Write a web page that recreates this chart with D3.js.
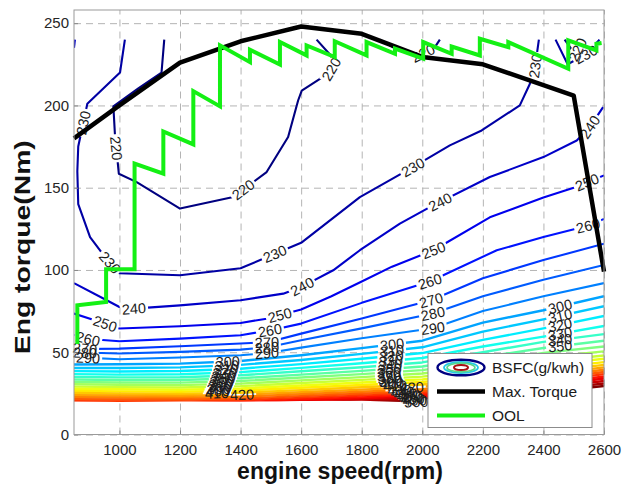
<!DOCTYPE html>
<html>
<head>
<meta charset="utf-8">
<script src="https://cdn.jsdelivr.net/npm/d3@7"></script>
<style>
body { margin: 0; background: #fff; }
svg { display: block; font-family: "Liberation Sans", Arial, sans-serif; }
</style>
</head>
<body>
<svg id="bsfc-map" width="631" height="484"></svg>
<script>
// ---- data ----
var xTicks = [1000, 1200, 1400, 1600, 1800, 2000, 2200, 2400, 2600];
var yTicks = [0, 50, 100, 150, 200, 250];

// max torque curve (rpm, Nm)
var maxTorque = [[850,180],[1000,200],[1200,226],[1400,239],[1600,248],[1800,243.5],[2000,229.5],[2200,225],[2500,206],[2600,99]];

// optimal operating line
var ool = [[861,55],[861,78.5],[956,80.5],[956,100.5],[1050,100.5],[1050,164.6],[1145,158.5],[1145,184.2],
  [1244,176.3],[1244,208.7],[1332,199.4],[1332,236.5],[1431,226.3],[1431,233.8],[1530,224.9],[1530,238.5],
  [1618,230.4],[1618,236.5],[1711,229.4],[1711,239],[1816,230.4],[1816,238.5],[1910,231.4],[1910,234.5],
  [2003,228.4],[2003,238.5],[2097,231.4],[2097,235.8],[2190,230.4],[2190,240.5],[2284,235.4],[2284,238.5],
  [2482,222.3],[2482,239.5],[2575,233.4],[2575,237.5],[2592,238]];

// low bsfc contours (rpm, Nm)
var bsfc220a = [[1148,240],[1139,220],[1060,210],[980,199.4],[985,182.8],[998,158.5],[1057,153.4],[1200,137.3],
  [1376,144.3],[1486,159.5],[1557,180.8],[1590,203],[1602,209],[1662,216.2],[1690,219],[1712,226],
  [1695,231],[1651,240]];
var bsfc220b = [[1860,240],[1903,235.4],[1950,232],[2002,231.6],[2040,235],[2058,240]];
var bsfc220c = [[2470,240],[2505,231],[2528,240]];
var bsfc230a = [[1018,240],[1002,220],[894,201],[864,175],[861,160],[864,140],[903,120],[952,108],[1000,98],
  [1200,96.8],[1400,101],[1490,108],[1600,116.5],[1794,144.3],[1969,162.5],[2091,175.7],[2196,184.8],
  [2322,200],[2355,213],[2372,223],[2385,240]];
var bsfc230b = [[2440,240],[2480,225],[2540,231],[2585,240]];
var bsfc240a = [[850,92],[958,81.6],[1000,77.5],[1046,76.5],[1200,78.5],[1400,81.6],[1541,85.6],[1600,89.6],
  [1706,99.8],[1794,112],[1926,128.2],[2025,138.2],[2223,156.5],[2400,168.6],[2510,178.7],[2553,186.8],[2597,199]];
var bsfc240b = [[850,235],[853,240]];
var bsfc250 = [[850,73.5],[936,68.4],[1000,64.4],[1200,65.8],[1400,67.8],[1486,70.4],[1600,76],[1700,84],
  [1800,93],[1900,102],[2037,112],[2223,132],[2400,144],[2500,150],[2600,157.5]];
var bsfc260 = [[850,60.3],[900,58],[1000,56.7],[1200,58.3],[1400,60.3],[1500,63.4],[1600,67.4],[1800,80],
  [2025,93],[2246,112],[2400,120],[2550,127],[2600,131]];
var bsfc270 = [[850,53],[900,52],[1000,52.2],[1200,53.6],[1400,55.3],[1490,56.1],[1600,61.3],[1800,70.5],
  [2029,81.6],[2200,95],[2400,106],[2600,116]];
var bsfc280 = [[850,50],[1000,49.2],[1200,50.2],[1400,51.6],[1490,53],[1600,57.3],[1800,64.5],[2035,73.5],
  [2200,84],[2400,94],[2600,103]];
var bsfc290 = [[850,47],[1000,45.7],[1200,46.8],[1400,48.2],[1490,49.5],[1600,52.8],[1800,58.5],[2035,64.6],
  [2200,75],[2400,84],[2600,92]];

// dense high bsfc band: torque of each level at these speeds
var bandRpm = [850, 1000, 1200, 1400, 1600, 1800, 2000, 2200, 2400, 2600];
var bandLevels = [300,310,320,330,340,350,360,370,380,390,400,410,420,430,440,450,460,470,480,490,500];
var bandTorque = [
  [42.5,42.7,43.1,44.7,48.2,52.5,57.0,68.0,75.5,84.0],
  [40.4,40.4,40.8,42.3,45.3,49.0,53.0,62.5,70.0,78.0],
  [38.5,38.3,38.6,40.0,42.8,46.0,49.5,57.5,64.5,72.0],
  [36.7,36.4,36.6,37.9,40.5,43.3,46.5,53.5,59.5,66.0],
  [35.0,34.7,34.8,36.0,38.4,40.9,43.8,50.0,56.3,61.0],
  [33.4,33.1,33.1,34.2,36.4,38.7,41.3,47.0,52.6,57.0],
  [31.9,31.6,31.5,32.5,34.6,36.7,39.1,44.2,49.6,53.5],
  [30.5,30.2,30.0,30.9,32.9,34.9,37.1,41.8,46.8,50.5],
  [29.1,28.8,28.6,29.4,31.3,33.2,35.2,39.6,44.3,48.0],
  [27.8,27.5,27.2,28.0,29.8,31.6,33.5,37.6,42.0,46.0],
  [26.5,26.2,25.9,26.7,28.4,30.1,31.9,35.7,39.9,44.0],
  [25.2,24.9,24.6,25.4,27.0,28.7,30.4,34.0,38.0,42.3],
  [23.9,23.7,23.4,24.2,25.7,27.3,29.0,32.4,36.3,40.8],
  [22.7,22.5,22.2,23.0,24.5,26.0,27.6,30.9,34.7,39.4],
  [21.5,21.3,21.1,21.8,23.3,24.8,26.3,29.5,33.2,38.0],
  [20.3,20.1,20.0,20.7,22.2,23.6,25.1,28.1,31.8,36.7],
  [19.1,19.0,18.9,19.6,21.1,22.5,24.0,26.8,30.5,35.3],
  [18.0,17.9,17.8,18.6,20.1,21.5,22.9,25.6,29.2,34.0],
  [17.0,16.9,16.8,17.6,19.1,20.5,21.9,24.5,28.0,32.5],
  [16.0,15.9,15.8,16.7,18.2,19.6,20.9,23.4,26.8,31.0],
  [15.0,14.9,14.8,15.8,17.3,18.7,20.0,22.4,25.6,29.5]
];
// lowest measured torque of the map at bandRpm
var bottomEdge = [20, 19.8, 20, 20, 20.3, 20.5, 19.5, 22, 24.5, 27];

// contour labels: level, rpm, torque (band labels sit on their line at that rpm)
var blueLabels = [
  [230,893,189],[230,959,103],[230,1515,109],[230,1969,162.5],[230,2372,224],[230,2545,230],
  [220,991,174],[220,1420,146],[220,1700,222],[220,2002,232],[220,2512,234],
  [240,1048,76.5],[240,1603,90],[240,2060,141],[240,2553,187],
  [250,952,67],[250,1530,72],[250,2037,112],[250,2547,152],
  [260,896,58],[260,1497,63.4],[260,2025,93],[260,2547,127],
  [270,886,52],[270,1487,56],[270,2029,81.6],
  [280,886,49],[280,1487,53],[280,2035,73.5],
  [290,896,45],[290,1487,49.5],[290,2035,64.6]
];
var bandLabels = [
  [300,1358],[310,1355],[320,1352],[330,1348],[340,1345],[350,1342],[360,1338],[370,1335],[380,1332],
  [390,1328],[400,1325],[410,1322],[420,1405],
  [300,1900],[310,1900],[320,1898],[330,1896],[340,1894],[350,1892],[360,1890],[370,1890],[380,1892],
  [390,1895],[400,1900],[410,1910],[420,1965],[430,1925],[440,1935],[450,1945],[460,1955],[470,1962],
  [480,1968],[490,1975],[500,1980],
  [300,2455],[310,2455],[320,2455],[330,2455],[340,2455],[350,2455]
];

var legendItems = ["BSFC(g/kwh)", "Max. Torque", "OOL"];

// ---- layout ----
var svg = d3.select("#bsfc-map");
var plotL = 74, plotR = 604, plotT = 10, plotB = 434.5;

var x = d3.scaleLinear().domain([850, 2600]).range([plotL, plotR]);
var y = d3.scaleLinear().domain([0, 258]).range([plotB, plotT]);

// jet colormap like matlab
function jet(v) {
  var t = (v - 220) / (500 - 220);
  function c(o) { return Math.max(0, Math.min(1, 1.5 - Math.abs(4 * t - o))); }
  return d3.rgb(255 * c(3), 255 * c(2), 255 * c(1)) + "";
}

var line = d3.line().x(function (d) { return x(d[0]); }).y(function (d) { return y(d[1]); });

// all contour polylines by level
var contourLines = [
  [220, bsfc220a], [220, bsfc220b], [220, bsfc220c],
  [230, bsfc230a], [230, bsfc230b],
  [240, bsfc240a], [240, bsfc240b],
  [250, bsfc250], [260, bsfc260], [270, bsfc270], [280, bsfc280], [290, bsfc290]
];
bandLevels.forEach(function (lev, i) {
  contourLines.push([lev, bandRpm.map(function (r, j) { return [r, bandTorque[i][j]]; }), true]);
});

var defs = svg.append("defs");

// map area: clip off what lies under the lowest measured torque
var edge = [[850, 245], [2600, 245]].concat(bandRpm.map(function (r, j) { return [r, bottomEdge[j]]; }).reverse());
defs.append("clipPath").attr("id", "map-area")
  .append("path").attr("d", line(edge) + "Z");

// ---- grid ----
svg.append("g")
  .attr("transform", "translate(0," + plotB + ")")
  .call(d3.axisBottom(x).tickValues(xTicks).tickSize(-(plotB - plotT)).tickFormat(""))
  .call(function (g) { g.select(".domain").remove(); });
svg.append("g")
  .attr("transform", "translate(" + plotL + ",0)")
  .call(d3.axisLeft(y).tickValues(yTicks).tickSize(-(plotR - plotL)).tickFormat(""))
  .call(function (g) { g.select(".domain").remove(); });
svg.selectAll(".tick line").attr("stroke", "#b4b4b4").attr("stroke-dasharray", "7,5").attr("stroke-width", 1);

// ---- label positions (needed first, lines get broken under them) ----
function nearest(pts, px, py) {
  var best = null;
  for (var i = 0; i < pts.length - 1; i++) {
    var ax = x(pts[i][0]), ay = y(pts[i][1]), bx = x(pts[i + 1][0]), by = y(pts[i + 1][1]);
    var dx = bx - ax, dy = by - ay, l2 = dx * dx + dy * dy;
    var t = l2 ? Math.max(0, Math.min(1, ((px - ax) * dx + (py - ay) * dy) / l2)) : 0;
    var qx = ax + t * dx, qy = ay + t * dy;
    var d = (qx - px) * (qx - px) + (qy - py) * (qy - py);
    if (!best || d < best.d) best = { d: d, x: qx, y: qy, a: Math.atan2(dy, dx) * 180 / Math.PI };
  }
  return best;
}

var labelData = [];
blueLabels.concat(bandLabels).forEach(function (l) {
  var lev = l[0], rpm = l[1], tq = l[2];
  if (tq == null) {
    var row = bandTorque[bandLevels.indexOf(lev)];
    tq = d3.scaleLinear().domain(bandRpm).range(row)(rpm);
  }
  var best = null;
  contourLines.forEach(function (c) {
    if (c[0] !== lev) return;
    var n = nearest(c[1], x(rpm), y(tq));
    if (!best || n.d < best.d) best = n;
  });
  var a = best.a;
  if (a > 90) a -= 180;
  if (a < -90) a += 180;
  labelData.push({ level: lev, x: best.x, y: best.y, a: a });
});

var labelG = svg.append("g").attr("class", "clabels")
  .attr("font-size", "14.5px").attr("fill", "#1c1c1c").attr("text-anchor", "middle");
var labels = labelG.selectAll("text").data(labelData).enter().append("text")
  .attr("transform", function (d) { return "translate(" + d.x + "," + d.y + ") rotate(" + d.a + ")"; })
  .attr("dy", "0.36em")
  .text(function (d) { return d.level; });
labels.each(function (d) { d.w = this.getComputedTextLength(); });

// one mask per level: lines break only under their own labels
var levels = d3.groups(contourLines, function (c) { return c[0]; }).map(function (g) { return g[0]; });
levels.forEach(function (lev) {
  var m = defs.append("mask").attr("id", "m" + lev)
    .attr("maskUnits", "userSpaceOnUse").attr("x", 0).attr("y", 0).attr("width", 631).attr("height", 484);
  m.append("rect").attr("width", 631).attr("height", 484).attr("fill", "#fff");
  labelData.filter(function (d) { return d.level === lev; }).forEach(function (d) {
    m.append("rect")
      .attr("x", -d.w / 2 - 2).attr("y", -6).attr("width", d.w + 4).attr("height", 12)
      .attr("transform", "translate(" + d.x + "," + d.y + ") rotate(" + d.a + ")")
      .attr("fill", "#000");
  });
});

var contourG = svg.insert("g", ".clabels").attr("clip-path", "url(#map-area)");
contourG.selectAll("path").data(contourLines).enter().append("path")
  .attr("d", function (d) { return line(d[1]); })
  .attr("fill", "none")
  .attr("stroke", function (d) { return jet(d[0]); })
  .attr("stroke-width", function (d) { return d[2] ? 2.4 : 2.1; })
  .attr("stroke-linejoin", "round")
  .attr("mask", function (d) { return "url(#m" + d[0] + ")"; });

// ---- max torque and OOL ----
svg.append("path").attr("d", line(maxTorque))
  .attr("fill", "none").attr("stroke", "#000").attr("stroke-width", 4.5).attr("stroke-linejoin", "round");
svg.append("path").attr("d", line(ool))
  .attr("fill", "none").attr("stroke", "#14f014").attr("stroke-width", 4).attr("stroke-linejoin", "miter");

// ---- axes ----
var xAxis = svg.append("g").attr("transform", "translate(0," + plotB + ")")
  .call(d3.axisBottom(x).tickValues(xTicks).tickFormat(d3.format("d"))
    .tickSizeInner(-4).tickSizeOuter(0).tickPadding(10));
var yAxis = svg.append("g").attr("transform", "translate(" + plotL + ",0)")
  .call(d3.axisLeft(y).tickValues(yTicks).tickFormat(d3.format("d"))
    .tickSizeInner(-4).tickSizeOuter(0).tickPadding(5));
[xAxis, yAxis].forEach(function (g) {
  g.selectAll(".domain").remove();
  g.selectAll(".tick line").attr("stroke", "#888");
  g.selectAll(".tick text").attr("font-size", "15px").attr("fill", "#262626")
    .attr("font-family", "'Liberation Sans', Arial, sans-serif");
});
svg.append("rect").attr("x", plotL).attr("y", plotT).attr("width", plotR - plotL).attr("height", plotB - plotT)
  .attr("fill", "none").attr("stroke", "#9a9a9a").attr("stroke-width", 1);

svg.append("text").attr("x", (plotL + plotR) / 2 + 1).attr("y", 479)
  .attr("text-anchor", "middle").attr("font-size", "23px").attr("font-weight", "bold").attr("fill", "#111")
  .text("engine speed(rpm)");
svg.append("text").attr("transform", "translate(30," + ((plotT + plotB) / 2 + 25) + ") rotate(-90)")
  .attr("text-anchor", "middle").attr("font-size", "22px").attr("font-weight", "bold").attr("fill", "#111")
  .attr("textLength", 214).attr("lengthAdjust", "spacingAndGlyphs")
  .text("Eng torque(Nm)");

// ---- legend ----
var lgW = 164, lgH = 74;
var lg = svg.append("g").attr("transform", "translate(" + (plotR - 12 - lgW) + "," + (plotB - 7 - lgH) + ")");
lg.append("rect").attr("width", lgW).attr("height", lgH).attr("fill", "#fff").attr("stroke", "#8c8c8c");
var rows = lg.selectAll("g.row").data(legendItems).enter().append("g")
  .attr("class", "row").attr("transform", function (d, i) { return "translate(0," + (14 + i * 24) + ")"; });
rows.append("text").attr("x", 64).attr("dy", "0.36em").attr("font-size", "15.5px").attr("fill", "#1a1a1a")
  .text(function (d) { return d; });
var icon = rows.filter(function (d, i) { return i === 0; });
[[23.5, 7.8, jet(220), 2.4], [17, 5.6, "#22c8e6", 1.8], [14, 4.4, "#5ad68a", 1.6], [7, 2.6, "#a81010", 2]]
  .forEach(function (e) {
    icon.append("ellipse").attr("cx", 33).attr("cy", 0).attr("rx", e[0]).attr("ry", e[1])
      .attr("fill", "none").attr("stroke", e[2]).attr("stroke-width", e[3]);
  });
rows.filter(function (d, i) { return i === 1; }).append("line")
  .attr("x1", 9).attr("x2", 57).attr("stroke", "#000").attr("stroke-width", 4.5);
rows.filter(function (d, i) { return i === 2; }).append("line")
  .attr("x1", 9).attr("x2", 57).attr("stroke", "#14f014").attr("stroke-width", 4);
</script>
</body>
</html>
